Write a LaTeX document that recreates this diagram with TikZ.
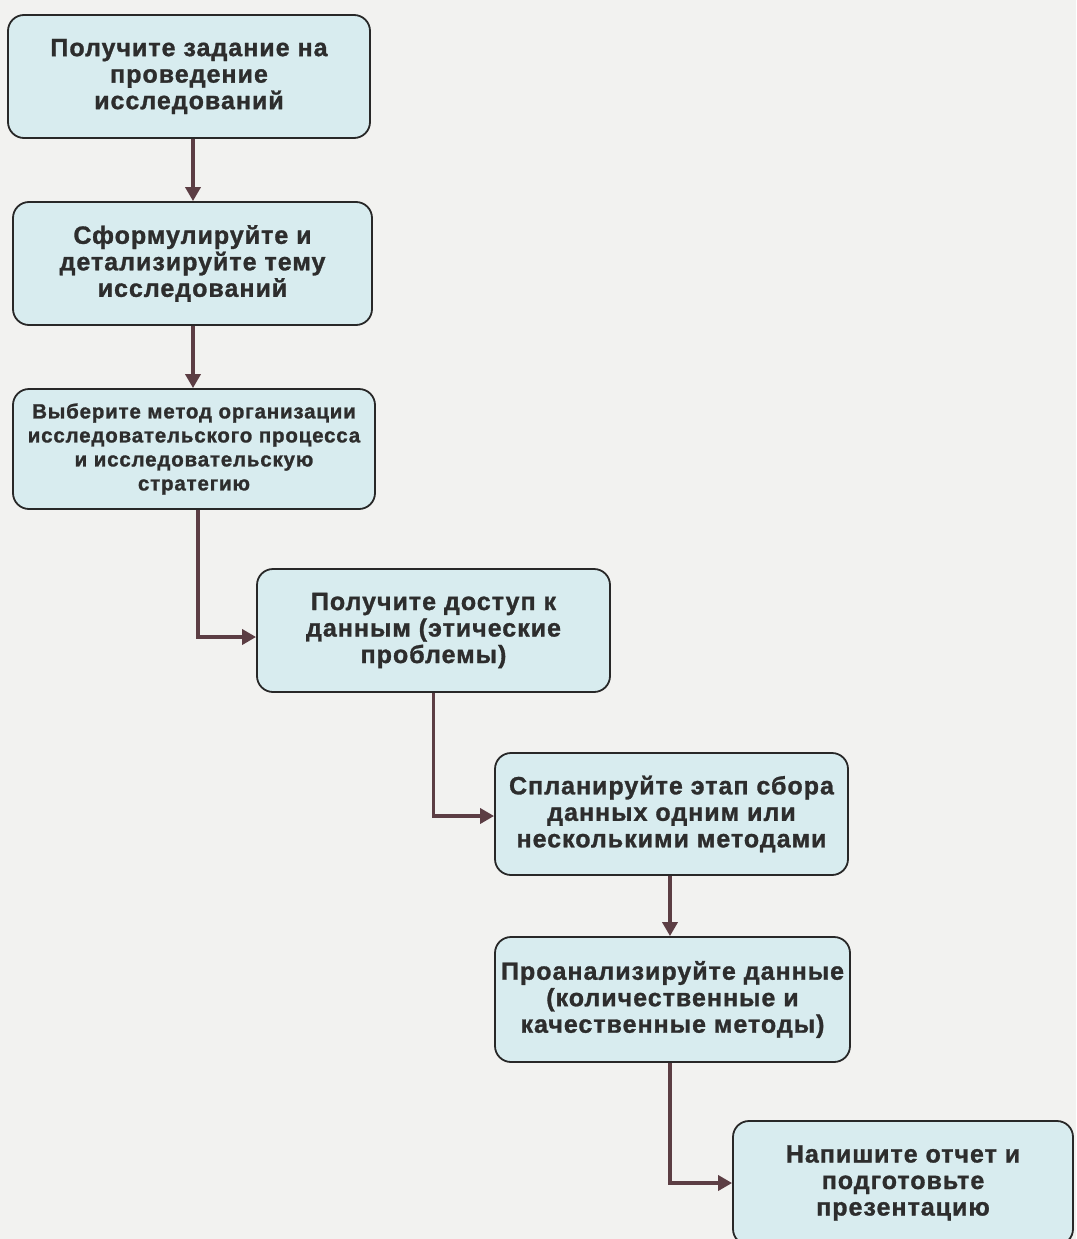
\documentclass[tikz,border=0pt]{standalone}
\usepackage{fontspec}
\setmainfont{Liberation Sans}[LetterSpace=4, BoldFeatures={FakeBold=1.2}]
\usetikzlibrary{arrows.meta}
\definecolor{pagebg}{RGB}{242,242,240}
\definecolor{boxfill}{RGB}{216,236,239}
\definecolor{boxline}{RGB}{40,40,40}
\definecolor{arrowcol}{RGB}{92,62,68}
\definecolor{txt}{RGB}{45,45,45}
\tikzset{
  x=1pt, y=-1pt,
  flowbox/.style={draw=boxline, line width=1.8pt, fill=boxfill, rounded corners=16pt,
    align=center, text=txt, inner sep=0pt,
    font=\bfseries\fontsize{25}{26.5}\selectfont},
  smallbox/.style={flowbox, font=\bfseries\fontsize{20.5}{24}\selectfont},
  flowarrow/.style={draw=arrowcol, line width=3.8pt,
    -{Triangle[length=14pt,width=15pt]}},
}
\begin{document}
\begin{tikzpicture}
\useasboundingbox (0,0) rectangle (1076,1239);
\fill[pagebg] (0,0) rectangle (1076,1239);
\clip (0,0) rectangle (1076,1239);

\node[flowbox, minimum width=362pt, minimum height=123pt] (b1) at (189,76.5)
  {Получите задание на\\проведение\\исследований};
\node[flowbox, minimum width=359pt, minimum height=123pt] (b2) at (192.5,263.5)
  {Сформулируйте и\\детализируйте тему\\исследований};
\node[smallbox, minimum width=362pt, minimum height=120pt] (b3) at (194,449)
  {Выберите метод организации\\исследовательского процесса\\и исследовательскую\\стратегию};
\node[flowbox, minimum width=353pt, minimum height=123pt] (b4) at (433.5,630.5)
  {Получите доступ к\\данным (этические\\проблемы)};
\node[flowbox, minimum width=353pt, minimum height=122pt] (b5) at (671.5,814)
  {Спланируйте этап сбора\\данных одним или\\несколькими методами};
\node[flowbox, minimum width=355pt, minimum height=125pt] (b6) at (672.5,999.5)
  {Проанализируйте данные\\(количественные и\\качественные методы)};
\node[flowbox, minimum width=340pt, minimum height=124pt] (b7) at (903,1183)
  {Напишите отчет и\\подготовьте\\презентацию};

\coordinate (c12) at (193,170);
\coordinate (c23) at (193,356);
\coordinate (c34) at (198,637);
\coordinate (c45) at (433.5,816);
\coordinate (c56) at (670,906);
\coordinate (c67) at (670,1183);

\draw[flowarrow] (b1.south -| c12) -- (b2.north -| c12);
\draw[flowarrow] (b2.south -| c23) -- (b3.north -| c23);
\draw[flowarrow] (b3.south -| c34) -- (c34) -- (c34 -| b4.west);
\draw[flowarrow] (b4.south) -- (c45) -- (c45 -| b5.west);
\draw[flowarrow] (b5.south -| c56) -- (b6.north -| c56);
\draw[flowarrow] (b6.south -| c67) -- (c67) -- (c67 -| b7.west);
\end{tikzpicture}
\end{document}
